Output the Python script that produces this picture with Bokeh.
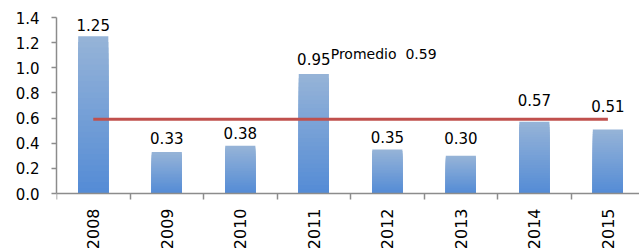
import math
from bokeh.plotting import figure
from bokeh.models import ColumnDataSource, Range1d, FixedTicker, Label
from bokeh.core.properties import value
from bokeh.embed import file_html
from bokeh.resources import INLINE

# ---- data ----
years = ["2008", "2009", "2010", "2011", "2012", "2013", "2014", "2015"]
values = [1.25, 0.33, 0.38, 0.95, 0.35, 0.30, 0.57, 0.51]
value_labels = ["1.25", "0.33", "0.38", "0.95", "0.35", "0.30", "0.57", "0.51"]
average = 0.59
average_label = "Promedio \u00a00.59"
y_ticks = [0.0, 0.2, 0.4, 0.6, 0.8, 1.0, 1.2, 1.4]

# ---- style ----
label_gaps = [11, 14, 13, 15, 13, 18, 22, 23]   # px between bar top and label anchor
FONT = "DejaVu Sans"
top_rgb = (0x95, 0xB3, 0xD7)
bot_rgb = (0x55, 0x8C, 0xD6)
PX_PER_UNIT = 176 / 1.4   # frame: 1.4 units over 176 px

centers = [i + 0.5 for i in range(len(years))]
boundaries = list(range(len(years) + 1))

p = figure(width=639, height=249, output_backend="svg", toolbar_location=None,
           x_range=Range1d(0, 7.93),
           y_range=Range1d(-56 / PX_PER_UNIT, 1.4),
           min_border_left=56, min_border_top=17, min_border_bottom=0,
           min_border_right=0)
p.outline_line_color = None
p.grid.grid_line_color = None
p.background_fill_color = "white"
p.border_fill_color = "white"

# gradient bars: stacked overlapping bars from tallest (light) to shortest (dark)
N = 28
for k in range(N):
    frac = (N - k) / N
    t = k / (N - 1)
    r = round(top_rgb[0] + (bot_rgb[0] - top_rgb[0]) * t)
    g = round(top_rgb[1] + (bot_rgb[1] - top_rgb[1]) * t)
    b = round(top_rgb[2] + (bot_rgb[2] - top_rgb[2]) * t)
    col = "#%02x%02x%02x" % (r, g, b)
    src = ColumnDataSource(dict(x=centers, top=[v * frac for v in values]))
    p.vbar(x="x", top="top", bottom=0, width=0.41, source=src,
           fill_color=col, line_color=None)

# average line
p.line(x=[centers[0], centers[-1]], y=[average, average],
       line_color="#C0504D", line_width=3)

# value labels
lsrc = ColumnDataSource(dict(x=centers,
                             y=[v + g / PX_PER_UNIT for v, g in zip(values, label_gaps)],
                             text=value_labels))
p.text(x="x", y="y", text="text", source=lsrc,
       text_align="center", text_baseline="alphabetic",
       text_font=value(FONT), text_font_size="15px", text_color="black")

p.add_layout(Label(x=3.73, y=1.108, text=average_label, text_font=FONT,
                   text_font_size="14px", text_color="black",
                   text_baseline="alphabetic", text_align="left"))

# x axis fixed at y = 0
p.xaxis.fixed_location = 0
p.xaxis.ticker = FixedTicker(ticks=centers, minor_ticks=boundaries)
p.xaxis.major_label_overrides = {c: y for c, y in zip(centers, years)}
p.xaxis.major_label_orientation = math.pi / 2
p.xaxis.major_tick_out = 0
p.xaxis.major_tick_in = 0
p.xaxis.minor_tick_out = 6
p.xaxis.minor_tick_in = 0
p.xaxis.major_label_standoff = 9
p.xaxis.major_label_text_font = FONT
p.xaxis.major_label_text_font_size = "16px"
p.xaxis.major_label_text_color = "black"
p.xaxis.axis_line_color = "#8C8C8C"
p.xaxis.minor_tick_line_color = "#8C8C8C"
p.xaxis.axis_line_width = 1.5
p.xaxis.minor_tick_line_width = 1.5

p.yaxis.bounds = (0, 1.4)
p.yaxis.ticker = FixedTicker(ticks=y_ticks)
p.yaxis.major_label_overrides = {t: "%.1f" % t for t in y_ticks}
p.yaxis.major_tick_out = 5
p.yaxis.major_tick_in = 0
p.yaxis.minor_tick_line_color = None
p.yaxis.major_label_standoff = 12
p.yaxis.major_label_text_font = FONT
p.yaxis.major_label_text_font_size = "15px"
p.yaxis.major_label_text_color = "black"
p.yaxis.axis_line_color = "#8C8C8C"
p.yaxis.major_tick_line_color = "#8C8C8C"
p.yaxis.axis_line_width = 1.5
p.yaxis.major_tick_line_width = 1.5

open("out.html", "w").write(file_html(p, INLINE))
